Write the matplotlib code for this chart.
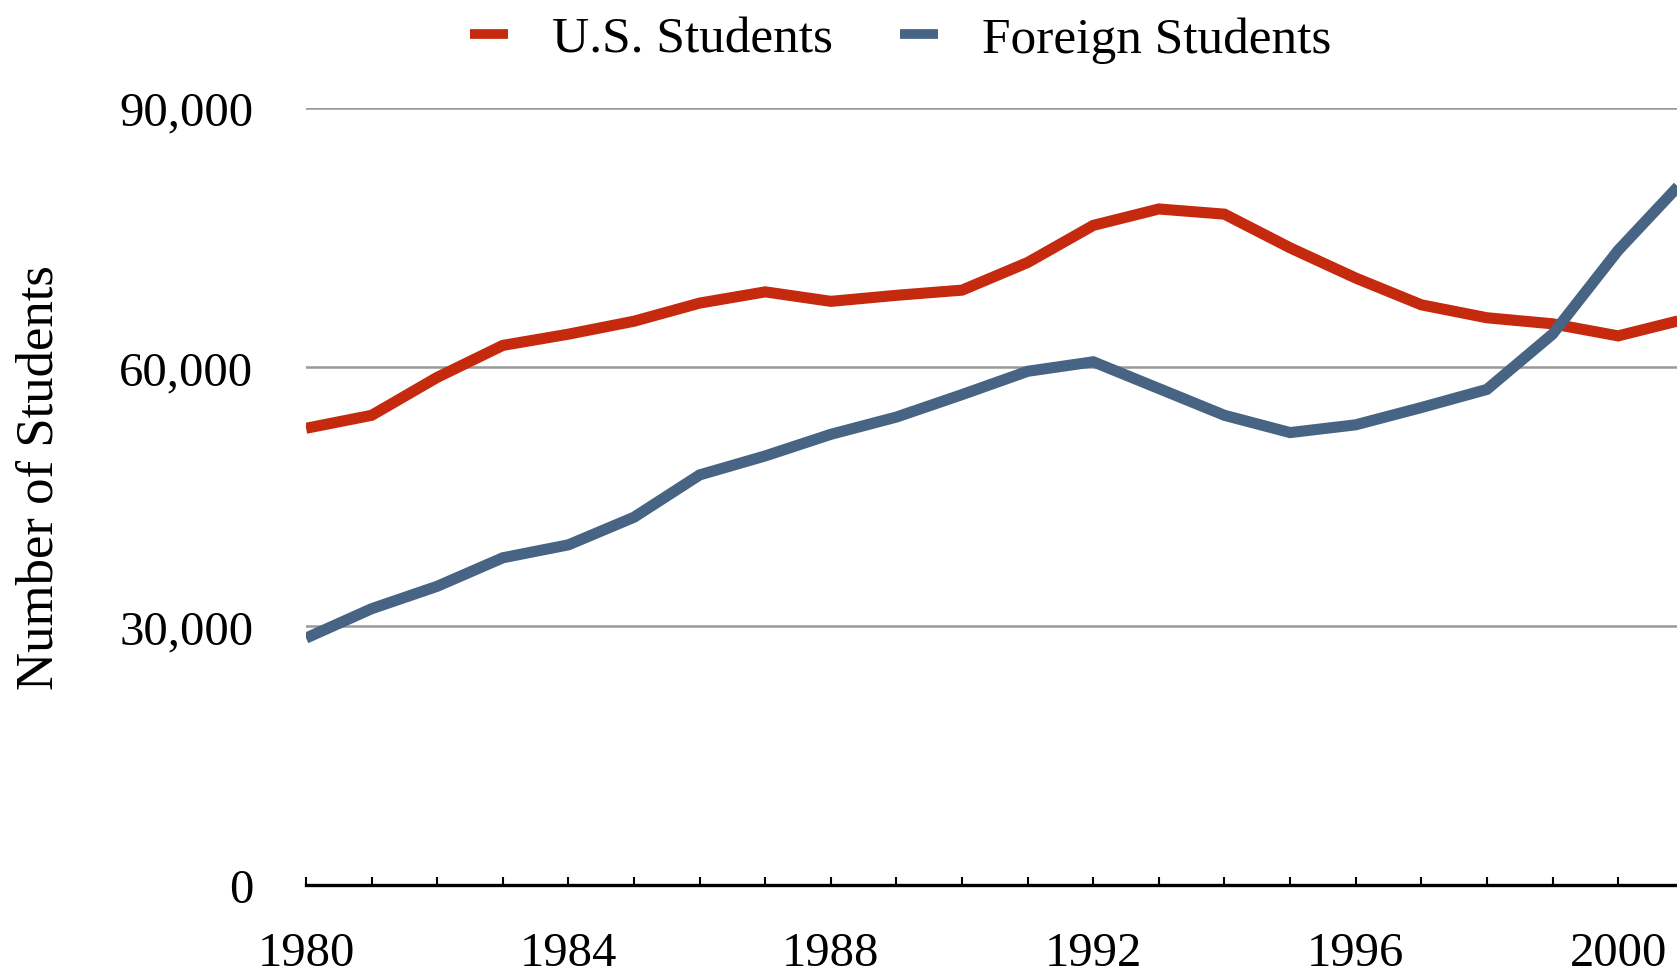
import matplotlib
matplotlib.use("Agg")
import matplotlib.pyplot as plt

years = list(range(1980, 2002))
us_students = [52900, 54400, 58800, 62500, 63800, 65300, 67400, 68700, 67600, 68300, 68900,
               72100, 76400, 78300, 77700, 73800, 70300, 67200, 65700, 65000, 63600, 65500]
foreign_students = [28600, 32000, 34600, 37900, 39400, 42600, 47500, 49700, 52200, 54200, 56800,
                    59500, 60600, 57500, 54400, 52400, 53300, 55300, 57400, 63800, 73500, 81600]
y_ticks = [0, 30000, 60000, 90000]

RED = "#C62A0E"
BLUE = "#476485"

plt.rcParams["font.family"] = ["Liberation Serif", "DejaVu Serif"]

fig = plt.figure(figsize=(16.77, 9.79), dpi=100)
ax = fig.add_axes([0.1825, 0.095, 0.8215, 0.7937])

ax.plot(years, us_students, color=RED, lw=8, solid_capstyle="butt", solid_joinstyle="miter",
        label="U.S. Students", zorder=3)
ax.plot(years, foreign_students, color=BLUE, lw=8, solid_capstyle="butt", solid_joinstyle="miter",
        label="Foreign Students", zorder=3)

ax.set_xlim(1980, 2001)
ax.set_ylim(0, 90000)

ax.set_yticks(y_ticks)
ax.set_yticklabels([f"{v:,}" for v in y_ticks])
ax.yaxis.grid(True, color="#999999", lw=1.8)
ax.set_axisbelow(True)

ax.set_xticks(years)
ax.set_xticklabels([str(y) if (y - 1980) % 4 == 0 else "" for y in years])

for side in ["top", "right", "left"]:
    ax.spines[side].set_visible(False)
ax.spines["bottom"].set_linewidth(2.4)
ax.spines["bottom"].set_color("black")
ax.spines["bottom"].set_zorder(4)

ax.tick_params(axis="x", direction="in", length=6, width=1.5, pad=33, labelsize=35)
ax.tick_params(axis="y", length=0, pad=38, labelsize=35)

ax.set_ylabel("Number of Students", fontsize=38)
ax.yaxis.set_label_coords(-0.176, 0.525)

leg = fig.legend(loc="upper center", bbox_to_anchor=(0.537, 1.03), ncol=2, frameon=False,
                 fontsize=37, handlelength=0.75, handletextpad=0.85, columnspacing=1.3)
for line in leg.get_lines():
    line.set_linewidth(7)

fig.savefig("out.png", dpi=100)
